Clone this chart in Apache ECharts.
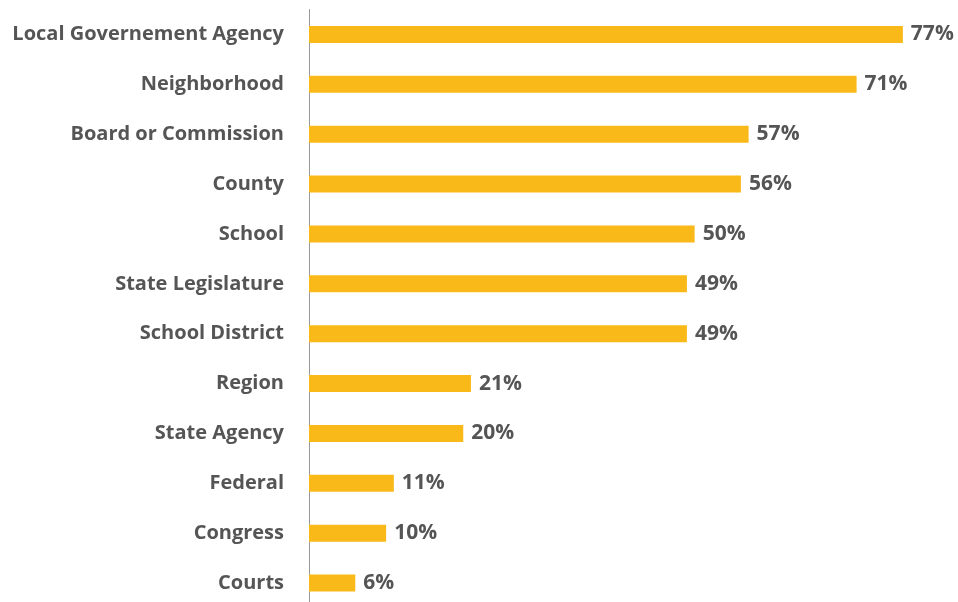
<!DOCTYPE html>
<html>
<head>
<meta charset="utf-8">
<script src="https://cdn.jsdelivr.net/npm/echarts@6/dist/echarts.min.js"></script>
<style>
  html, body { margin: 0; padding: 0; background: #fff; }
  #chart { width: 958px; height: 602px; }
</style>
</head>
<body>
<div id="chart"></div>
<script>
  var categories = ['Local Governement Agency', 'Neighborhood', 'Board or Commission', 'County', 'School',
    'State Legislature', 'School District', 'Region', 'State Agency', 'Federal', 'Congress', 'Courts'];
  var values = [77, 71, 57, 56, 50, 49, 49, 21, 20, 11, 10, 6];

  var chart = echarts.init(document.getElementById('chart'));
  chart.setOption({
    animation: false,
    grid: {
      left: 309,
      top: 9.5,
      right: 32,
      bottom: -6,
      outerBoundsMode: 'none'
    },
    xAxis: {
      type: 'value',
      min: 0,
      max: 80,
      show: false
    },
    yAxis: {
      type: 'category',
      inverse: true,
      data: categories,
      axisTick: { show: false },
      axisLine: { lineStyle: { color: '#999999', width: 1 } },
      axisLabel: {
        margin: 25,
        padding: [6, 0, 0, 0],
        color: '#555555',
        fontFamily: 'Open Sans',
        fontWeight: 'bold',
        fontSize: 20
      }
    },
    series: [
      {
        type: 'bar',
        data: values,
        barWidth: 17,
        itemStyle: { color: '#F9B918' },
        label: {
          show: true,
          position: 'right',
          distance: 8,
          padding: [3, 0, 0, 0],
          formatter: '{c}%',
          color: '#555555',
          fontFamily: 'Open Sans',
          fontWeight: 'bold',
          fontSize: 21
        }
      }
    ]
  });
</script>
</body>
</html>
